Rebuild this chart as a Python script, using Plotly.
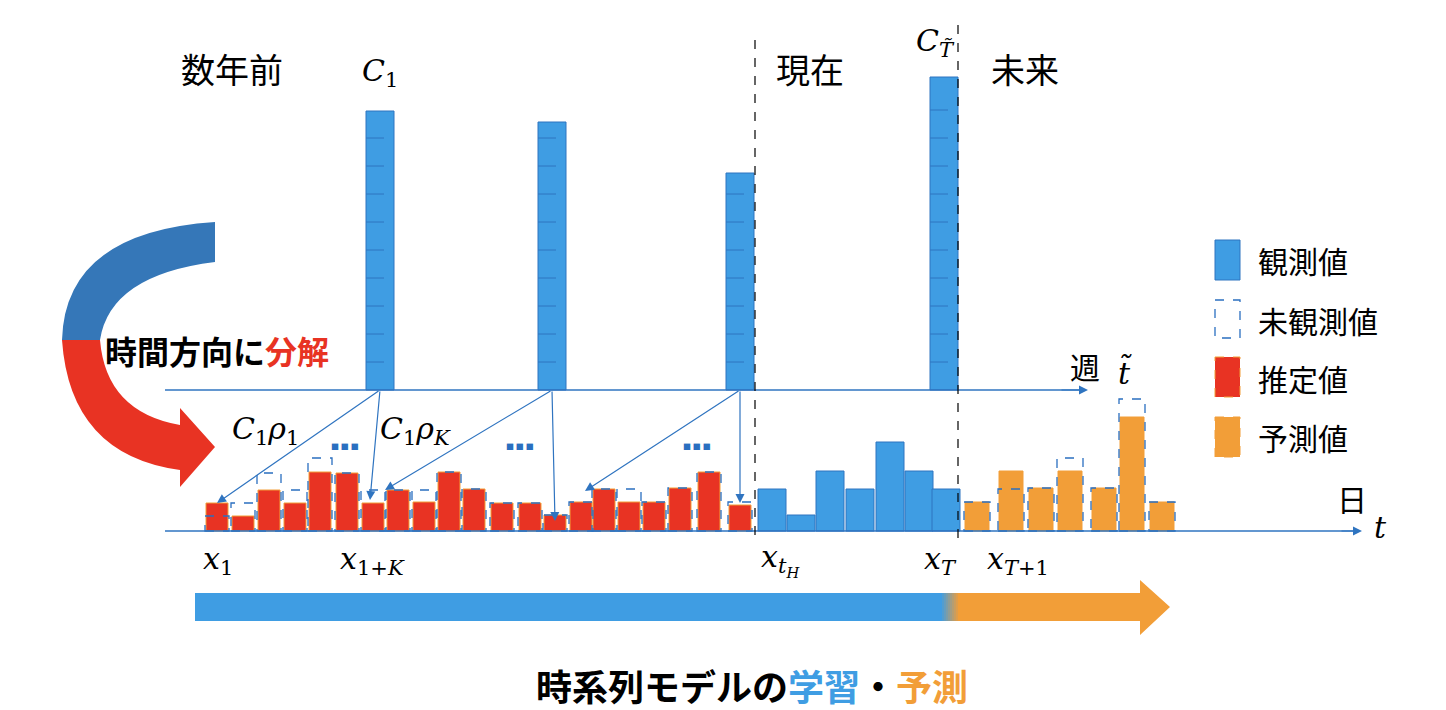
import plotly.graph_objects as go

BLUE = "#3f9de3"; RED = "#e83323"; ORANGE = "#f29e38"; LBLUE = "#2f74c0"

# weekly observed totals (pixel heights)
week_x = [380, 552, 740, 944]
week_h = [279, 268, 217, 313]
# daily estimated (red)
red_x = [217, 243, 269, 295, 320, 347, 373, 398, 424, 449, 474, 502, 530, 555, 581, 604, 629, 654, 680, 709, 740]
red_h = [28, 15, 41, 28, 59, 58, 28, 41, 29, 59, 42, 28, 28, 16, 29, 42, 29, 29, 43, 59, 26]
red_dash = [15, 28, 58, 41, 73, 58, 41, 41, 41, 59, 42, 28, 28, 16, 29, 42, 42, 29, 43, 59, 29]
# daily observed (blue)
obs_x = [772, 801, 830, 860, 890, 919, 946]
obs_h = [42, 16, 60, 42, 89, 60, 42]
# forecast (orange)
fc_x = [977, 1011, 1041, 1070, 1104, 1132, 1162]
fc_h = [29, 60, 43, 60, 43, 114, 29]
fc_dash = [29, 42, 43, 73, 43, 132, 29]

BASE_D = 531; BASE_W = 390

fig = go.Figure()
fig.add_bar(x=red_x, y=[-h for h in red_h], base=BASE_D, width=22,
            marker=dict(color=RED, line=dict(color=ORANGE, width=1)))
fig.add_bar(x=fc_x, y=[-h for h in fc_h], base=BASE_D, width=24,
            marker=dict(color=ORANGE, line=dict(color=ORANGE, width=1)))
fig.add_bar(x=obs_x, y=[-h for h in obs_h], base=BASE_D, width=28,
            marker=dict(color=BLUE, line=dict(color=LBLUE, width=1)))
fig.add_bar(x=week_x, y=[-h for h in week_h], base=BASE_W, width=28,
            marker=dict(color=BLUE, line=dict(color=LBLUE, width=1)))
fig.update_layout(barmode="overlay", showlegend=False)

shapes = []
for xs, hs, w in [(red_x, red_dash, 24), (fc_x, fc_dash, 26)]:
    for x, h in zip(xs, hs):
        shapes.append(dict(type="rect", x0=x - w / 2, x1=x + w / 2, y0=BASE_D, y1=BASE_D - h,
                           line=dict(color="#2a6fc0", width=1.3, dash="dash"), layer="above"))
for x, h in zip(week_x, week_h):
    y = BASE_W - 28
    while y > BASE_W - h + 12:
        shapes.append(dict(type="line", x0=x-14, x1=x+4, y0=y, y1=y, line=dict(color=LBLUE, width=1)))
        y -= 28
shapes.append(dict(type="line", x0=165, x1=1080, y0=BASE_W, y1=BASE_W, line=dict(color=LBLUE, width=1.5)))
shapes.append(dict(type="line", x0=165, x1=1355, y0=BASE_D, y1=BASE_D, line=dict(color=LBLUE, width=1.5)))
shapes.append(dict(type="line", x0=755, x1=755, y0=40, y1=BASE_D + 8, line=dict(color="black", width=1.2, dash="dash")))
shapes.append(dict(type="line", x0=958, x1=958, y0=25, y1=BASE_D + 8, line=dict(color="black", width=1.2, dash="dash")))
shapes.append(dict(type="rect", x0=195, x1=940, y0=593, y1=621, fillcolor=BLUE, line_width=0))
for i in range(10):
    t = i / 9
    c = "rgb(%d,%d,%d)" % (63 + t * (242 - 63), 157 + t * (158 - 157), 227 + t * (56 - 227))
    shapes.append(dict(type="rect", x0=940 + 2 * i, x1=942 + 2 * i, y0=593, y1=621, fillcolor=c, line_width=0))
shapes.append(dict(type="path", path="M960,593 L1140,593 L1140,580 L1170,607 L1140,635 L1140,621 L960,621 Z",
                   fillcolor=ORANGE, line_width=0))
shapes.append(dict(type="path", path="M215,222 Q65,232 62,340 L100,340 Q110,275 215,262 Z",
                   fillcolor="#3577b8", line_width=0))
shapes.append(dict(type="path", path="M62,340 Q70,455 180,470 L180,487 L215,447 L180,408 L180,425 Q106,412 100,340 Z",
                   fillcolor=RED, line_width=0))
shapes.append(dict(type="rect", x0=1215, x1=1240, y0=240, y1=280, fillcolor=BLUE, line=dict(color=LBLUE, width=1)))
shapes.append(dict(type="rect", x0=1215, x1=1240, y0=300, y1=338, fillcolor="white", line=dict(color="#2a6fc0", width=1.3, dash="dash")))
shapes.append(dict(type="rect", x0=1215, x1=1240, y0=357, y1=397, fillcolor=RED, line=dict(color=ORANGE, width=1, dash="dash")))
shapes.append(dict(type="rect", x0=1215, x1=1240, y0=417, y1=457, fillcolor=ORANGE, line=dict(color=ORANGE, width=1, dash="dash")))
fig.update_layout(shapes=shapes)

anns = []
def txt(x, y, s, size=30, color="black", font="Noto Sans CJK JP", **kw):
    anns.append(dict(x=x, y=y, text=s, showarrow=False, font=dict(size=size, color=color, family=font), **kw))

def arr(x0, y0, x1, y1):
    anns.append(dict(x=x1, y=y1, ax=x0, ay=y0, axref="x", ayref="y", xref="x", yref="y", text="",
                     showarrow=True, arrowhead=2, arrowsize=1.5, arrowwidth=1.2, arrowcolor=LBLUE))

arr(1060, BASE_W, 1088, BASE_W)
arr(1340, BASE_D, 1362, BASE_D)
arr(380, BASE_W, 217, 503)
arr(380, BASE_W, 370, 500)
arr(552, BASE_W, 385, 490)
arr(552, BASE_W, 555, 521)
arr(740, BASE_W, 585, 491)
arr(740, BASE_W, 740, 503)

txt(232, 68, "数年前", 34)
txt(810, 68, "現在", 34)
txt(1025, 68, "未来", 34)
txt(1256, 260, "観測値", 30, xanchor="left")
txt(1256, 320, "未観測値", 30, xanchor="left")
txt(1256, 378, "推定値", 30, xanchor="left")
txt(1256, 437, "予測値", 30, xanchor="left")
txt(1085, 366, "週", 30)
txt(1352, 498, "日", 30)
SER = "DejaVu Serif"
txt(380, 72, "<i>C</i><sub>1</sub>", 30, font=SER)
txt(935, 42, "<i>C</i><sub><i>T̃</i></sub>", 30, font=SER)
txt(1125, 372, "<i>t̃</i>", 30, font=SER)
txt(1380, 527, "<i>t</i>", 30, font=SER)
txt(265, 430, "<i>C</i><sub>1</sub><i>ρ</i><sub>1</sub>", 30, font=SER)
txt(415, 430, "<i>C</i><sub>1</sub><i>ρ</i><sub><i>K</i></sub>", 30, font=SER)
txt(218, 560, "<i>x</i><sub>1</sub>", 30, font=SER)
txt(372, 560, "<i>x</i><sub>1+<i>K</i></sub>", 30, font=SER)
txt(780, 560, "<i>x</i><sub><i>t<sub>H</sub></i></sub>", 30, font=SER)
txt(940, 560, "<i>x</i><sub><i>T</i></sub>", 30, font=SER)
txt(1018, 560, "<i>x</i><sub><i>T</i>+1</sub>", 30, font=SER)
for x in [345, 520, 697]:
    txt(x, 446, "<b>■ ■ ■</b>", 8, color="#2a6fc0")
txt(217, 350, "<b>時間方向に<span style='color:%s'>分解</span></b>" % RED, 32)
txt(752, 685, "<b>時系列モデルの<span style='color:%s'>学習</span>・<span style='color:%s'>予測</span></b>" % (BLUE, ORANGE), 36)
fig.update_layout(annotations=anns)

fig.update_layout(width=1446, height=710, margin=dict(l=0, r=0, t=0, b=0),
                  plot_bgcolor="white", paper_bgcolor="white",
                  xaxis=dict(range=[8, 1454], visible=False, fixedrange=True),
                  yaxis=dict(range=[718, 8], visible=False, fixedrange=True))
fig.write_html("out.html")
